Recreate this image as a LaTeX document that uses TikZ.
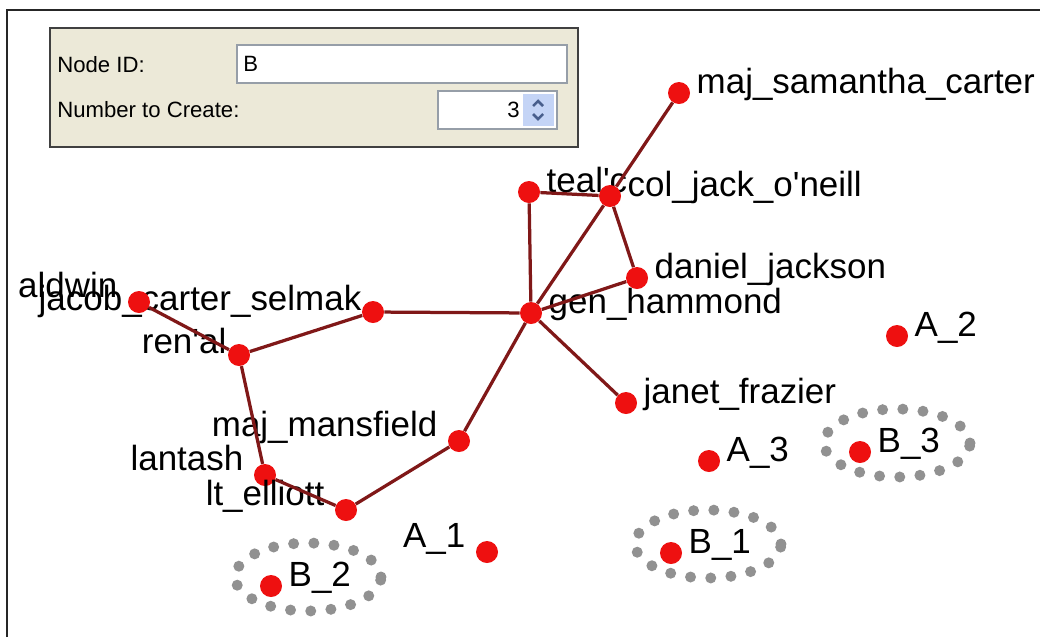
\documentclass[tikz,border=0pt]{standalone}
\usepackage{fontspec}
\setmainfont{Liberation Sans}
\usetikzlibrary{calc,positioning}

\definecolor{dotred}{RGB}{238,16,16}
\definecolor{linkred}{RGB}{128,24,24}
\definecolor{panelbg}{RGB}{236,233,216}
\definecolor{fieldline}{RGB}{150,158,168}
\definecolor{spinblue}{RGB}{196,212,246}
\definecolor{arrowblue}{RGB}{72,94,140}
\definecolor{grpgray}{RGB}{145,145,145}

\begin{document}
\begin{tikzpicture}[x=0.02cm,y=-0.02cm,
  dot/.style={circle,fill=dotred,inner sep=0pt,minimum size=0.44cm},
  link/.style={draw=linkred,line width=0.065cm},
  lbl/.style={font=\fontsize{19.9}{22}\selectfont,inner sep=0pt},
  lblR/.style={lbl,anchor=base west,xshift=0.12cm},
  lblL/.style={lbl,anchor=base east,xshift=-0.2cm,yshift=0.1cm},
  grp/.style={draw=grpgray,line width=0.22cm,line cap=round,
              dash pattern=on 0pt off 0.405cm},
  ui/.style={font=\fontsize{12.6}{14}\selectfont,inner sep=0pt},
  field/.style={draw=fieldline,fill=white,line width=0.03cm}
]
\useasboundingbox (0,0) rectangle (1040,637);
\draw[line width=0.04cm,black!85] (7,637) -- (7,10) -- (1040,10);

% the create-nodes panel
\draw[draw=black!75,line width=0.04cm,fill=panelbg] (50,28) rectangle (578,147);
\node[ui,anchor=west] (idlbl) at (57,65) {Node ID:};
\node[ui,anchor=west] (numlbl) at (57,110) {Number to Create:};
\draw[field] (237,45) rectangle (567,83);
\node[ui,anchor=west] (idval) at (243,64) {B};
\draw[field] (438,91) rectangle (557,129);
\node[ui,anchor=east] (numval) at (520,110) {3};
\fill[spinblue] (523,94) rectangle (554,126);
\draw[arrowblue,line width=0.05cm] (533,106) -- (538,101) -- (543,106);
\draw[arrowblue,line width=0.05cm] (533,114) -- (538,119) -- (543,114);

% groups of the new B nodes
\draw[grp] (308,577) ellipse [x radius=1.46cm,y radius=0.68cm];
\draw[grp] (708,544) ellipse [x radius=1.46cm,y radius=0.68cm];
\draw[grp] (897,443) ellipse [x radius=1.46cm,y radius=0.68cm];

% graph
\node[dot,label={[lblR]right:maj\_samantha\_carter}] (samantha) at (679,93) {};
\node[dot,label={[lblR]right:teal\textquotesingle c}] (tealc) at (529,192) {};
\node[dot,label={[lblR]right:col\_jack\_o\textquotesingle neill}] (oneill) at (610,196) {};
\node[dot,label={[lblR]right:daniel\_jackson}] (daniel) at (637,278) {};
\node[dot,label={[lblR]right:gen\_hammond}] (hammond) at (531,313) {};
\node[dot,label={[lblL,xshift=0.2cm,yshift=-0.06cm]left:jacob\_carter\_selmak}] (jacob) at (373,312) {};
\node[dot,label={[lblL]left:aldwin}] (aldwin) at (139,302) {};
\node[dot,label={[lblL,xshift=0.18cm,yshift=-0.06cm]left:ren\textquotesingle al}] (renal) at (239,355) {};
\node[dot,label={[lblR]right:janet\_frazier}] (janet) at (626,403) {};
\node[dot,label={[lblL]left:maj\_mansfield}] (mansfield) at (459,441) {};
\node[dot,label={[lblL]left:lantash}] (lantash) at (265,475) {};
\node[dot,label={[lblL]left:lt\_elliott}] (elliott) at (346,510) {};
\node[dot,label={[lblL]left:A\_1}] (a1) at (487,552) {};
\node[dot,label={[lblR]right:A\_2}] (a2) at (897,336) {};
\node[dot,label={[lblR]right:A\_3}] (a3) at (709,461) {};
\node[dot,label={[lblR]right:B\_1}] (b1) at (671,553) {};
\node[dot,label={[lblR]right:B\_2}] (b2) at (271,586) {};
\node[dot,label={[lblR]right:B\_3}] (b3) at (860,452) {};

\draw[link] (samantha) -- (oneill);
\draw[link] (tealc) -- (oneill);
\draw[link] (tealc) -- (hammond);
\draw[link] (oneill) -- (hammond);
\draw[link] (oneill) -- (daniel);
\draw[link] (daniel) -- (hammond);
\draw[link] (hammond) -- (jacob);
\draw[link] (hammond) -- (janet);
\draw[link] (hammond) -- (mansfield);
\draw[link] (jacob) -- (renal);
\draw[link] (aldwin) -- (renal);
\draw[link] (renal) -- (lantash);
\draw[link] (lantash) -- (elliott);
\draw[link] (elliott) -- (mansfield);
\end{tikzpicture}
\end{document}
